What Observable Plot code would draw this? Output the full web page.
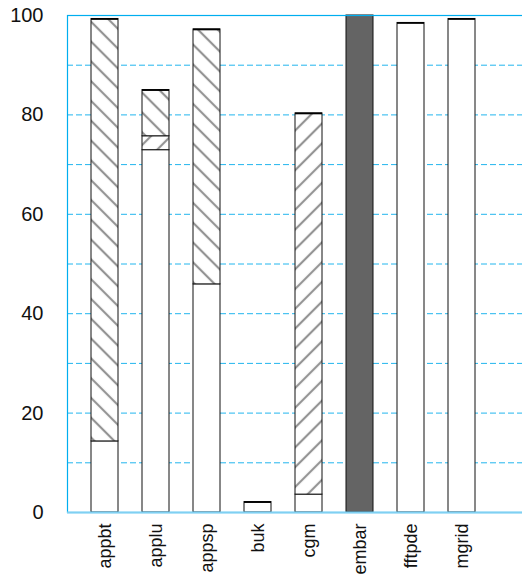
<!DOCTYPE html>
<html>
<head>
<meta charset="utf-8">
<script src="https://cdn.jsdelivr.net/npm/d3@7"></script>
<script src="https://cdn.jsdelivr.net/npm/@observablehq/plot@0.6"></script>
<style>
  html, body { margin: 0; padding: 0; background: #fff; overflow: hidden; }
  #chart { width: 522px; height: 578px; }
</style>
</head>
<body>
<div id="chart"></div>
<script>
// Benchmarks along the x axis
const benchmarks = ["appbt", "applu", "appsp", "buk", "cgm", "embar", "fftpde", "mgrid"];

// Stacked segments per benchmark (percent), bottom to top
const plain     = [14.3, 72.9, 45.9, 2.1, 3.6, 0, 98.5, 99.3];  // open segment
const slash     = [0, 2.8, 0, 0, 76.7, 0, 0, 0];                // "/" hatched segment
const backslash = [85.0, 9.3, 51.3, 0, 0, 0, 0, 0];             // "\" hatched segment
const solid     = [0, 0, 0, 0, 0, 100, 0, 0];                   // solid dark segment

const yTicks = [0, 20, 40, 60, 80, 100];
const gridLevels = [10, 20, 30, 40, 50, 60, 70, 80, 90];

const layers = [
  {name: "plain", values: plain, fill: "#ffffff"},
  {name: "slash", values: slash, fill: "url(#hatch-slash)"},
  {name: "backslash", values: backslash, fill: "url(#hatch-backslash)"},
  {name: "solid", values: solid, fill: "#646464"}
];

const rows = [];
for (const layer of layers) {
  benchmarks.forEach((b, i) => {
    if (layer.values[i] > 0) rows.push({benchmark: b, layer: layer.name, fill: layer.fill, value: layer.values[i]});
  });
}

// Total height of each stacked bar, for the heavier top edge
const totals = benchmarks.map((b, i) => ({
  benchmark: b,
  total: layers.reduce((s, l) => s + l.values[i], 0)
}));

const blue = "#00aeef";

const chart = Plot.plot({
  width: 522,
  height: 578,
  marginLeft: 67,
  marginRight: -2, // right edge of the frame falls just outside the drawing
  marginTop: 15,
  marginBottom: 66,
  style: {fontFamily: "'Liberation Sans', Arial, sans-serif", background: "#fff", overflow: "hidden"},
  x: {domain: benchmarks, range: [77.3, 488.7], padding: 0},
  y: {domain: [0, 100]},
  color: {type: "identity"},
  marks: [
    Plot.ruleY(gridLevels, {stroke: "#22b6ee", strokeWidth: 1, strokeDasharray: "6,3"}),
    Plot.barY(rows, {
      x: "benchmark", y: "value", z: "layer", fill: "fill",
      stroke: "#111", strokeWidth: 1, insetLeft: 12, insetRight: 12
    }),
    Plot.tickY(totals.filter(d => d.total < 100), {
      x: "benchmark", y: "total", stroke: "#000", strokeWidth: 1.8, insetLeft: 12, insetRight: 12
    }),
    Plot.frame({stroke: blue, strokeWidth: 1.2}),
    Plot.ruleY([0], {stroke: "#7fd0f2", strokeWidth: 2}),
    Plot.axisY({ticks: yTicks, tickSize: 0, tickPadding: 24, fontSize: 20, fill: "#111", label: null}),
    Plot.axisX({tickRotate: -90, tickSize: 0, tickPadding: 11, fontSize: 18, fill: "#111", label: null})
  ]
});

// Hatch patterns used by the striped segments
const svg = d3.select(chart.tagName.toLowerCase() === "svg" ? chart : chart.querySelector("svg"));
const defs = svg.insert("defs", ":first-child");
function hatch(id, angle) {
  const s = 14;
  const p = defs.append("pattern")
    .attr("id", id)
    .attr("patternUnits", "userSpaceOnUse")
    .attr("width", s).attr("height", s)
    .attr("patternTransform", `rotate(${angle})`);
  p.append("rect").attr("width", s).attr("height", s).attr("fill", "#fff");
  p.append("line").attr("x1", 0).attr("x2", s).attr("y1", s / 2).attr("y2", s / 2)
    .attr("stroke", "#949494").attr("stroke-width", 2.2);
}
hatch("hatch-backslash", 45);
hatch("hatch-slash", -45);

document.getElementById("chart").appendChild(chart);
</script>
</body>
</html>
